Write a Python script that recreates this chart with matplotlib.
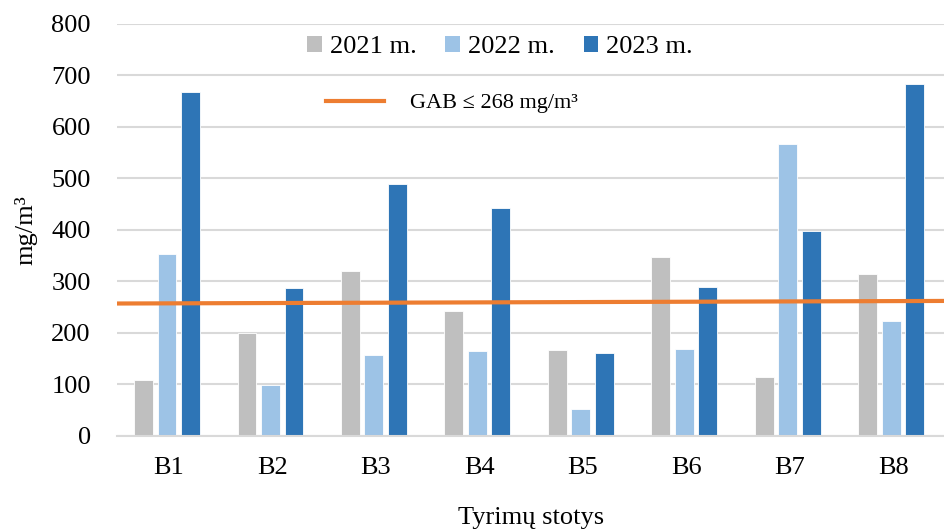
import matplotlib.pyplot as plt
import numpy as np
from matplotlib.patches import Patch
from matplotlib.lines import Line2D

plt.rcParams['font.family'] = ['Liberation Serif', 'DejaVu Serif']

stations = ['B1', 'B2', 'B3', 'B4', 'B5', 'B6', 'B7', 'B8']
years = ['2021 m.', '2022 m.', '2023 m.']
v2021 = [109, 200, 320, 243, 167, 348, 115, 315]
v2022 = [353, 99, 157, 165, 52, 169, 567, 223]
v2023 = [668, 287, 489, 443, 161, 289, 398, 684]
gab_label = 'GAB ≤ 268 mg/m³'
gab_x = [-0.5, 7.5]
gab_y = [257, 262]

colors = ['#BFBFBF', '#9DC3E6', '#2E75B6']
orange = '#ED7D31'

fig = plt.figure(figsize=[9.45, 5.29], dpi=100)
ax = fig.add_axes([0.124, 0.176, 0.876, 0.779])

x = np.arange(len(stations))
step = 0.227
w = 0.18
for i, vals in enumerate([v2021, v2022, v2023]):
    ax.bar(x + (i - 1) * step - 0.02, vals, width=w, color=colors[i],
           edgecolor='white', linewidth=0.6, zorder=2)

ax.plot(gab_x, gab_y, color=orange, linewidth=3, zorder=3)

ax.set_xlim(-0.5, 7.5)
ax.set_ylim(0, 800)
ax.set_yticks(range(0, 801, 100))
ax.set_xticks(x)
ax.set_xticklabels(stations)
ax.grid(axis='y', color='#D9D9D9', linewidth=1.5, zorder=0)
ax.set_axisbelow(True)
for s in ['top', 'right', 'left']:
    ax.spines[s].set_visible(False)
ax.spines['bottom'].set_color('#D9D9D9')
ax.spines['bottom'].set_linewidth(1.5)
ax.tick_params(axis='both', length=0, labelsize=19)
ax.tick_params(axis='y', pad=19)
ax.tick_params(axis='x', pad=15)

ax.set_xlabel('Tyrimų stotys', fontsize=19, labelpad=20)
ax.set_ylabel('mg/m³', fontsize=19, labelpad=10)

h1 = [Patch(facecolor=c, edgecolor='none') for c in colors]
fig.legend(h1, years, loc='center', bbox_to_anchor=(500 / 945, 1 - 47 / 529),
           ncol=3, frameon=False, fontsize=19, handlelength=0.55,
           handleheight=0.55, handletextpad=0.3, columnspacing=1.1)
h2 = [Line2D([0], [0], color=orange, linewidth=3)]
fig.legend(h2, [gab_label], loc='center', bbox_to_anchor=(452 / 945, 1 - 103 / 529),
           frameon=False, fontsize=16, handlelength=2.6, handletextpad=1.2)

fig.savefig('out.png', dpi=100)
